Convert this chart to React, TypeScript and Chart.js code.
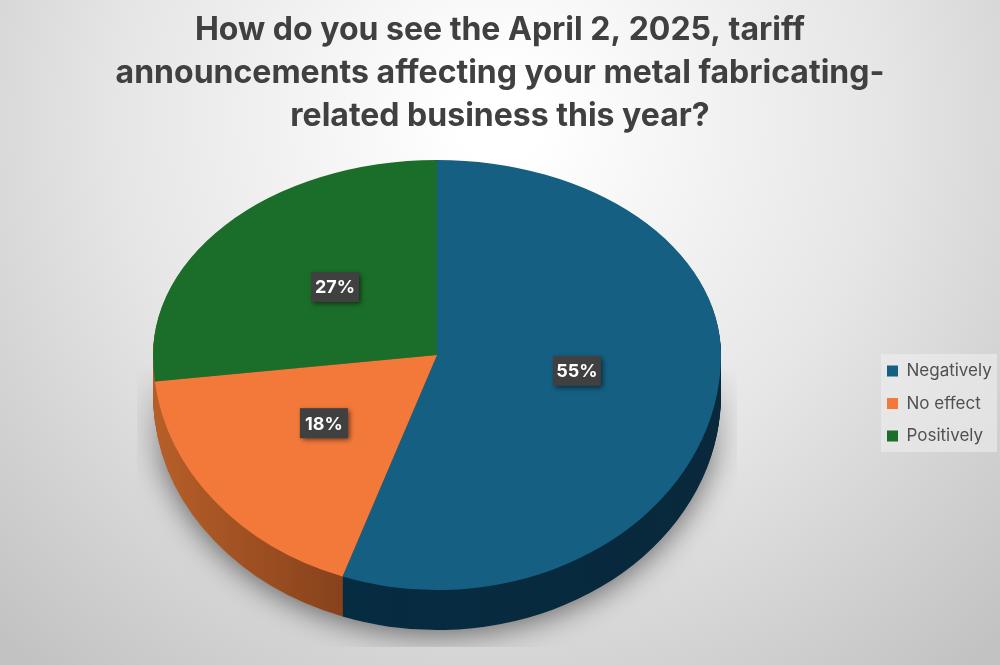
import React, { useEffect, useRef } from "react";
import { Chart, registerables } from "chart.js";

Chart.register(...registerables);

const categories = ["Negatively", "No effect", "Positively"];
const values = [55.4, 17.8, 26.8];
const titleLines = [
  "How do you see the April 2, 2025, tariff",
  "announcements affecting your metal fabricating-",
  "related business this year?",
];
const faceColors = ["#155f82", "#f2793a", "#1b6e29"];
const labelNudges = [[0, -4], [-2, -5], [4, -3]];

const FONT = "Inter, 'Open Sans', sans-serif";
const PIE = { x: 437, y: 355, rx: 284, ryTop: 195, ryBottom: 235, depth: 40 };

const perspectivePie = {
  id: "perspectivePie",
  afterLayout(chart: any) {
    const l = chart.legend;
    l.left = 871.5;
    l.right = 997;
    l.top = 304;
    l.bottom = 503;
  },
  beforeDraw(chart: any) {
    const { ctx, width, height } = chart;
    ctx.save();
    const g = ctx.createRadialGradient(500, 120, 40, 500, 120, 720);
    g.addColorStop(0, "#ffffff");
    g.addColorStop(0.5, "#e6e6e6");
    g.addColorStop(1, "#c2c2c2");
    ctx.fillStyle = g;
    ctx.fillRect(0, 0, width, height);
    ctx.fillStyle = "rgba(240,240,240,0.55)";
    ctx.fillRect(881, 354, 116, 98);
    ctx.restore();
  },
  beforeDatasetsDraw(chart: any) {
    const { ctx, width, height } = chart;
    const arcs = chart.getDatasetMeta(0).data;
    const cx = arcs[0].x;
    const cy = arcs[0].y;
    const R = arcs[0].outerRadius;
    const s = PIE.rx / R;

    // soft ground shadow, faded towards its top so that it has no hard edge
    const off = document.createElement("canvas");
    off.width = width;
    off.height = height;
    const o = off.getContext("2d") as CanvasRenderingContext2D;
    o.save();
    o.beginPath();
    o.rect(137, 360, 600, 287);
    o.clip();
    o.shadowColor = "rgba(0,0,0,0.55)";
    o.shadowBlur = 30;
    o.shadowOffsetY = 4;
    o.fillStyle = "#999";
    o.beginPath();
    o.ellipse(PIE.x, PIE.y + PIE.depth, PIE.rx, PIE.ryBottom, 0, 0, Math.PI * 2);
    o.fill();
    o.restore();
    o.globalCompositeOperation = "destination-in";
    const mask = o.createLinearGradient(0, 365, 0, 470);
    mask.addColorStop(0, "rgba(0,0,0,0)");
    mask.addColorStop(1, "rgba(0,0,0,1)");
    o.fillStyle = mask;
    o.fillRect(0, 0, width, height);
    ctx.drawImage(off, 0, 0);

    const drawLayer = (dy: number, colors: any[]) => {
      const parts = [
        { top: 0, h: PIE.y + dy, k: PIE.ryTop / R },
        { top: PIE.y + dy, h: height - PIE.y - dy, k: PIE.ryBottom / R },
      ];
      for (const p of parts) {
        ctx.save();
        ctx.beginPath();
        ctx.rect(0, p.top, width, p.h);
        ctx.clip();
        ctx.translate(PIE.x, PIE.y + dy);
        ctx.scale(s, p.k);
        ctx.translate(-cx, -cy);
        arcs.forEach((arc: any, i: number) => {
          const saved = arc.options;
          const c = colors[i];
          const fill = typeof c === "function" ? c() : c;
          arc.options = { ...saved, backgroundColor: fill, borderWidth: 0 };
          arc.draw(ctx);
          arc.options = saved;
        });
        ctx.restore();
      }
    };

    const orangeSide = () => {
      const g = ctx.createLinearGradient(cx + (160 - PIE.x) / s, 0, cx + (341 - PIE.x) / s, 0);
      g.addColorStop(0, "#b65e28");
      g.addColorStop(1, "#87421c");
      return g;
    };
    const blueSide = () => {
      const g = ctx.createLinearGradient(cx + (345 - PIE.x) / s, 0, cx + (720 - PIE.x) / s, 0);
      g.addColorStop(0, "#062c42");
      g.addColorStop(1, "#09283b");
      return g;
    };
    for (let d = PIE.depth; d >= 1; d--) {
      drawLayer(d, [blueSide, orangeSide, "#b65e28"]);
    }
    drawLayer(0, faceColors);

    // value labels
    arcs.forEach((arc: any, i: number) => {
      const mid = (arc.startAngle + arc.endAngle) / 2;
      const dx = Math.cos(mid) * 0.5;
      const dy = Math.sin(mid) * 0.5;
      const X = PIE.x + dx * PIE.rx + labelNudges[i][0];
      const Y = PIE.y + dy * (dy < 0 ? PIE.ryTop : PIE.ryBottom) + labelNudges[i][1];
      ctx.save();
      ctx.shadowColor = "rgba(0,0,0,0.6)";
      ctx.shadowBlur = 5;
      ctx.shadowOffsetX = 2;
      ctx.shadowOffsetY = 2;
      ctx.fillStyle = "#404040";
      ctx.fillRect(X - 24, Y - 15, 48, 30);
      ctx.restore();
      ctx.save();
      ctx.fillStyle = "#ffffff";
      ctx.font = `700 18px ${FONT}`;
      ctx.textAlign = "center";
      ctx.textBaseline = "middle";
      ctx.fillText(`${Math.round(values[i])}%`, X, Y + 1);
      ctx.restore();
    });
    return false;
  },
};

export default function App() {
  const ref = useRef<HTMLCanvasElement>(null);
  useEffect(() => {
    const chart = new Chart(ref.current as HTMLCanvasElement, {
      type: "pie",
      data: {
        labels: categories,
        datasets: [{ data: values, backgroundColor: faceColors, borderWidth: 0 }],
      },
      options: {
        responsive: false,
        animation: false,
        devicePixelRatio: 1,
        plugins: {
          title: {
            display: true,
            text: titleLines,
            color: "#404040",
            align: "center",
            font: { family: FONT, size: 32, weight: "bold", lineHeight: 1.34 },
            padding: { top: 9, bottom: 10 },
          },
          legend: {
            display: true,
            position: "right",
            labels: {
              boxWidth: 11,
              boxHeight: 11,
              padding: 15.5,
              color: "#505050",
              font: { family: FONT, size: 17 },
            },
          },
          tooltip: { enabled: false },
        },
      } as any,
      plugins: [perspectivePie],
    });
    return () => chart.destroy();
  }, []);
  return (
    <div style={{ position: "absolute", left: 0, top: 0, width: 1000, height: 665 }}>
      <canvas ref={ref} width={1000} height={665} style={{ display: "block" }} />
    </div>
  );
}
